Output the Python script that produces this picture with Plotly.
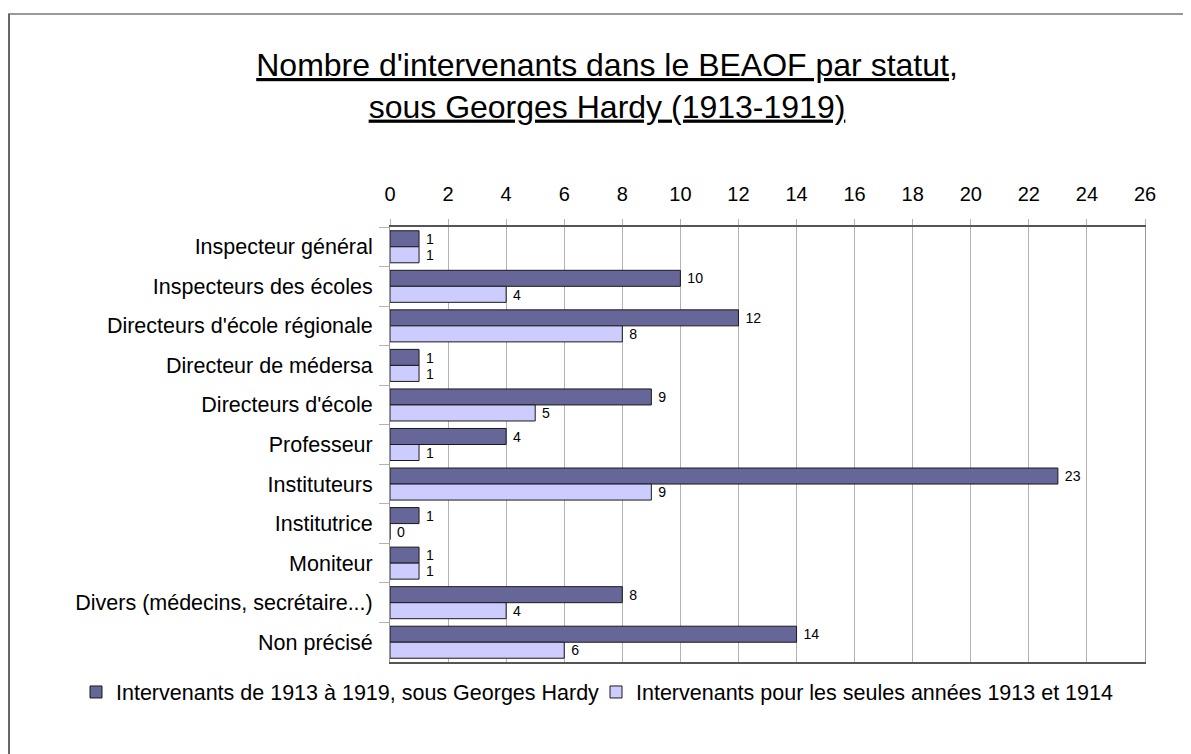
import plotly.graph_objects as go

categories = ["Inspecteur général", "Inspecteurs des écoles", "Directeurs d'école régionale",
              "Directeur de médersa", "Directeurs d'école", "Professeur", "Instituteurs",
              "Institutrice", "Moniteur", "Divers (médecins, secrétaire...)", "Non précisé"]
series_all = [1, 10, 12, 1, 9, 4, 23, 1, 1, 8, 14]
series_1913_1914 = [1, 4, 8, 1, 5, 1, 9, 0, 1, 4, 6]
name_all = "Intervenants de 1913 à 1919, sous Georges Hardy"
name_early = "Intervenants pour les seules années 1913 et 1914"
x_ticks = list(range(0, 27, 2))

W, H = 1191, 754
OFF = 8  # page body margin
L, R, T, B = 390 - OFF, 54, 227 - OFF, 100
pw, ph = W - L - R, H - T - B

font = "Liberation Sans, Arial, sans-serif"

fig = go.Figure()
fig.add_trace(go.Bar(y=categories, x=series_all, orientation="h", name=name_all,
                     marker=dict(color="#666699", line=dict(color="#1a1a1a", width=1)),
                     text=series_all, texttemplate="\u00a0%{x}", textposition="outside",
                     cliponaxis=False, textfont=dict(size=15, color="black"),
                     legend="legend2", showlegend=True))
fig.add_trace(go.Bar(y=categories, x=series_1913_1914, orientation="h", name=name_early,
                     marker=dict(color="#CCCCFF", line=dict(color="#1a1a1a", width=1)),
                     text=series_1913_1914, texttemplate="\u00a0%{x}", textposition="outside",
                     cliponaxis=False, textfont=dict(size=15, color="black"),
                     legend="legend3", showlegend=True))

def px_x(p):
    return (p - OFF - L) / pw

def px_y(p):
    return (H - B - (p - OFF)) / ph

def cx(p):
    return (p - OFF) / W

def cy(p):
    return 1 - (p - OFF) / H

leg_common = dict(orientation="h", xref="container", xanchor="left",
                  y=cy(692), yref="container", yanchor="middle",
                  font=dict(size=21.5), itemwidth=30, bgcolor="rgba(0,0,0,0)")

fig.update_layout(
    width=W, height=H,
    margin=dict(l=L, r=R, t=T, b=B, autoexpand=False),
    paper_bgcolor="white", plot_bgcolor="white",
    font=dict(family=font, size=21.5, color="black"),
    barmode="group", bargap=0.19, bargroupgap=0,
    showlegend=True,
    title=dict(text="<u>Nombre d'intervenants dans le BEAOF par statut,</u><br><u>sous Georges Hardy (1913-1919)</u>",
               x=cx(607), xref="container", xanchor="center",
               y=cy(76), yref="container", yanchor="top",
               font=dict(size=32, family=font, color="black")),
    xaxis=dict(side="top", range=[0, 26], tickvals=x_ticks, showgrid=True,
               gridcolor="#b3b3b3", gridwidth=1, zeroline=False,
               ticks="outside", ticklen=6, tickcolor="#b3b3b3", ticklabelstandoff=10,
               showline=True, linecolor="#555555", linewidth=2, mirror=True,
               tickfont=dict(size=20), fixedrange=True),
    yaxis=dict(autorange="reversed", showgrid=False, zeroline=False,
               ticks="outside", tickson="boundaries", ticklen=10, tickcolor="#b3b3b3",
               showline=True, linecolor="#999999", linewidth=1, mirror=True,
               tickfont=dict(size=21.5), ticksuffix="  "),
    legend2=dict(x=cx(116 - 40), **leg_common),
    legend3=dict(x=cx(636 - 40), **leg_common),
    shapes=[
        dict(type="line", xref="paper", yref="paper", x0=px_x(8), x1=px_x(W + 20), y0=px_y(14), y1=px_y(14),
             line=dict(color="#999999", width=2)),
        dict(type="line", xref="paper", yref="paper", x0=px_x(9), x1=px_x(9), y0=px_y(14), y1=px_y(H + 20),
             line=dict(color="#666666", width=2)),
    ],
)

fig.write_html("out.html")
